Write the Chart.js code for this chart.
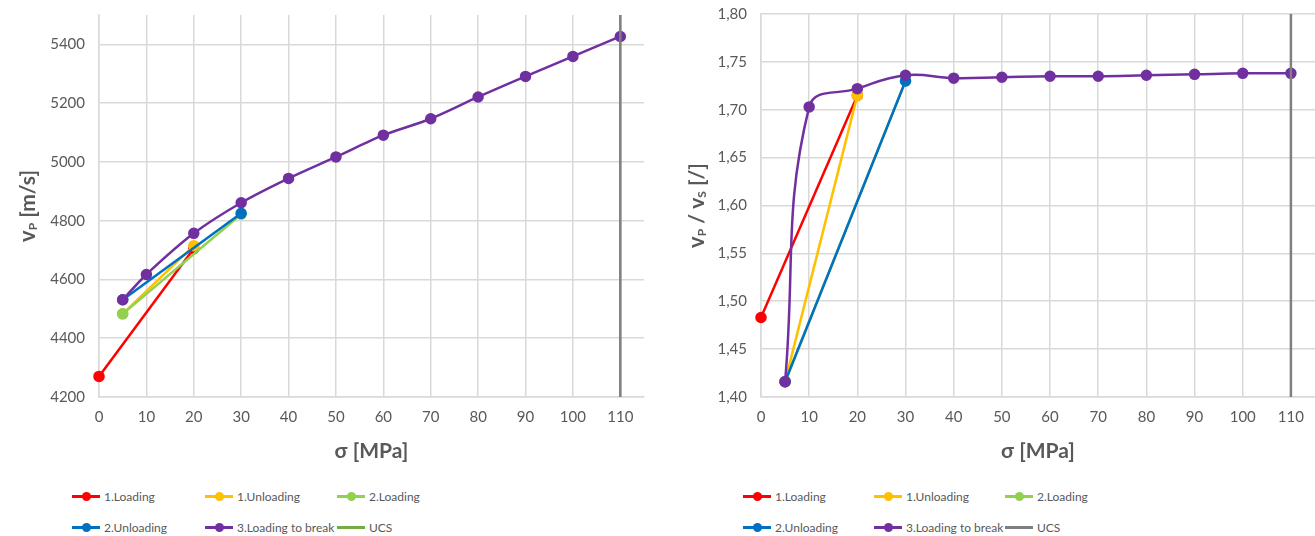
<!DOCTYPE html>
<html>
<head>
<meta charset="utf-8">
<script src="https://cdn.jsdelivr.net/npm/chart.js@4.4.1/dist/chart.umd.min.js"></script>
<style>
    body { margin: 0; background: #fff; width: 1315px; height: 536px; overflow: hidden; font-family: Lato, sans-serif; }
    .panel { position: absolute; top: 0; width: 655px; height: 470px; }
    #left-panel { left: 0; }
    #right-panel { left: 660px; }
    .legend { position: absolute; top: 481px; }
    .legend-item { position: absolute; display: flex; align-items: center; height: 30px; white-space: nowrap;
                   font-size: 12px; color: #595959; }
    .marker { position: relative; width: 28px; height: 10px; margin-right: 4px; }
    .marker .ln { position: absolute; left: 0; right: 0; top: 3.5px; height: 3px; }
    .marker .dot { position: absolute; left: 9.5px; top: 0.5px; width: 9px; height: 9px; border-radius: 50%; }
</style>
</head>
<body>
<div class="panel" id="left-panel"><canvas id="vp-chart"></canvas></div>
<div class="panel" id="right-panel"><canvas id="ratio-chart"></canvas></div>
<div class="legend" id="vp-legend" style="left:0"></div>
<div class="legend" id="ratio-legend" style="left:660px"></div>

<script>
// stress axis
const sigmaTicks = [0, 10, 20, 30, 40, 50, 60, 70, 80, 90, 100, 110];
const ucsStress = 110;

// series names and colours
const seriesNames = ['1.Loading', '1.Unloading', '2.Loading', '2.Unloading', '3.Loading to break', 'UCS'];
const seriesColors = ['#ff0000', '#ffc000', '#92d050', '#0070c0', '#7030a0', '#7f7f7f'];
const ucsLegendColorLeft = '#70ad47';

// left chart: P-wave velocity [m/s], pairs of [sigma, vP]
const vpTicks = [4200, 4400, 4600, 4800, 5000, 5200, 5400];
const vpLoading1 = [[0, 4270], [20, 4705]];
const vpUnloading1 = [[20, 4715], [5, 4483]];
const vpLoading2 = [[5, 4483], [30, 4822]];
const vpUnloading2 = [[30, 4825], [5, 4531]];
const vpLoadingBreak = [[5, 4531], [10, 4617], [20, 4757], [30, 4861], [40, 4944], [50, 5017],
                        [60, 5091], [70, 5147], [80, 5221], [90, 5291], [100, 5359], [110, 5427]];

// right chart: vP / vS ratio, pairs of [sigma, ratio]
const ratioTicks = [1.40, 1.45, 1.50, 1.55, 1.60, 1.65, 1.70, 1.75, 1.80];
const ratioLoading1 = [[0, 1.483], [20, 1.715]];
const ratioUnloading1 = [[20, 1.715], [5, 1.416]];
const ratioLoading2 = [[5, 1.416], [30, 1.730]];
const ratioUnloading2 = [[30, 1.730], [5, 1.416]];
const ratioLoadingBreak = [[5, 1.416], [10, 1.703], [20, 1.722], [30, 1.736], [40, 1.733], [50, 1.734],
                           [60, 1.735], [70, 1.735], [80, 1.736], [90, 1.737], [100, 1.738], [110, 1.738]];

const tickColor = '#595959';
const gridColor = '#d9d9d9';

function toPoints(pairs) {
    return pairs.map(p => ({ x: p[0], y: p[1] }));
}

// y axis title with subscripts, drawn rotated on the canvas
function yTitlePlugin(parts, centerX) {
    return {
        id: 'yTitle',
        afterDraw(chart) {
            const ctx = chart.ctx;
            const area = chart.chartArea;
            ctx.save();
            let total = 0;
            parts.forEach(p => { ctx.font = p.font; total += ctx.measureText(p.text).width; });
            ctx.translate(centerX, (area.top + area.bottom) / 2);
            ctx.rotate(-Math.PI / 2);
            ctx.fillStyle = tickColor;
            ctx.textBaseline = 'middle';
            let x = -total / 2;
            parts.forEach(p => {
                ctx.font = p.font;
                ctx.fillText(p.text, x, 7 + (p.dy || 0));
                x += ctx.measureText(p.text).width;
            });
            ctx.restore();
        }
    };
}

function buildChart(canvasId, series, yTicks, yMin, yMax, yFormat, yAxisWidth, padTop, padRight, tension, titleParts, titleX) {
    const ctx = document.getElementById(canvasId).getContext('2d');
    const datasets = series.map((pairs, i) => ({
        label: seriesNames[i],
        data: toPoints(pairs),
        borderColor: seriesColors[i],
        backgroundColor: seriesColors[i],
        borderWidth: 2.5,
        pointRadius: 4.5,
        pointHoverRadius: 4.5,
        tension: i === 4 ? tension : 0,
        clip: false,
        order: series.length - i
    }));
    datasets.push({
        label: seriesNames[5],
        data: [{ x: ucsStress, y: yMin }, { x: ucsStress, y: yMax }],
        borderColor: seriesColors[5],
        backgroundColor: seriesColors[5],
        borderWidth: 2.5,
        pointRadius: 0,
        order: 0
    });

    return new Chart(ctx, {
        type: 'line',
        data: { datasets: datasets },
        options: {
            responsive: true,
            maintainAspectRatio: false,
            animation: false,
            layout: {
                autoPadding: false,
                padding: { top: padTop, right: padRight, left: 0, bottom: 0 }
            },
            scales: {
                x: {
                    type: 'linear',
                    min: 0,
                    max: 115,
                    afterBuildTicks: scale => { scale.ticks = sigmaTicks.map(v => ({ value: v })); },
                    afterFit: scale => {
                        scale.height = 73;
                        scale.paddingLeft = 0;
                        scale.paddingRight = 0;
                    },
                    grid: { color: gridColor, lineWidth: 1.5, drawTicks: false },
                    border: { color: gridColor, width: 1.5 },
                    ticks: { color: tickColor, font: { family: 'Lato', size: 15 }, padding: 11 },
                    title: {
                        display: true,
                        text: 'σ [MPa]',
                        color: tickColor,
                        font: { family: 'Lato', size: 21, weight: 'bold' },
                        padding: { top: 0, bottom: 6 }
                    }
                },
                y: {
                    type: 'linear',
                    min: yMin,
                    max: yMax,
                    afterBuildTicks: scale => { scale.ticks = yTicks.map(v => ({ value: v })); },
                    afterFit: scale => {
                        scale.width = yAxisWidth;
                        scale.paddingTop = 0;
                        scale.paddingBottom = 0;
                    },
                    grid: { color: gridColor, lineWidth: 1.5, drawTicks: false },
                    border: { color: gridColor, width: 1.5 },
                    ticks: {
                        color: tickColor,
                        font: { family: 'Lato', size: 15 },
                        padding: 14,
                        callback: yFormat
                    }
                }
            },
            plugins: {
                legend: { display: false },
                tooltip: { enabled: false }
            }
        },
        plugins: [yTitlePlugin(titleParts, titleX)]
    });
}

function buildLegend(elId, colors, columns) {
    const el = document.getElementById(elId);
    seriesNames.forEach((name, i) => {
        const item = document.createElement('div');
        item.className = 'legend-item';
        item.style.left = columns[i % 3] + 'px';
        item.style.top = (Math.floor(i / 3) * 31) + 'px';
        const marker = document.createElement('span');
        marker.className = 'marker';
        marker.innerHTML = '<span class="ln" style="background:' + colors[i] + '"></span>' +
            (i === 5 ? '' : '<span class="dot" style="background:' + colors[i] + '"></span>');
        item.appendChild(marker);
        item.appendChild(document.createTextNode(name));
        el.appendChild(item);
    });
}

buildChart('vp-chart',
    [vpLoading1, vpUnloading1, vpLoading2, vpUnloading2, vpLoadingBreak],
    vpTicks, 4200, 5500, v => String(v), 99, 15, 11, 0.3,
    [
        { text: 'v', font: 'bold 22px Lato' },
        { text: 'P', font: 'bold 12px Lato', dy: 5 },
        { text: ' [m/s]', font: 'bold 21px Lato' }
    ], 21);

buildChart('ratio-chart',
    [ratioLoading1, ratioUnloading1, ratioLoading2, ratioUnloading2, ratioLoadingBreak],
    ratioTicks, 1.40, 1.80, v => v.toFixed(2).replace('.', ','), 101, 14, 0, 0.42,
    [
        { text: 'v', font: 'bold 22px Lato' },
        { text: 'P', font: 'bold 12px Lato', dy: 5 },
        { text: ' / v', font: 'bold 21px Lato' },
        { text: 'S', font: 'bold 12px Lato', dy: 5 },
        { text: ' [/]', font: 'bold 21px Lato' }
    ], 30);

buildLegend('vp-legend', seriesColors.slice(0, 5).concat([ucsLegendColorLeft]), [72, 205, 337]);
buildLegend('ratio-legend', seriesColors, [83, 214, 345]);
</script>
</body>
</html>
